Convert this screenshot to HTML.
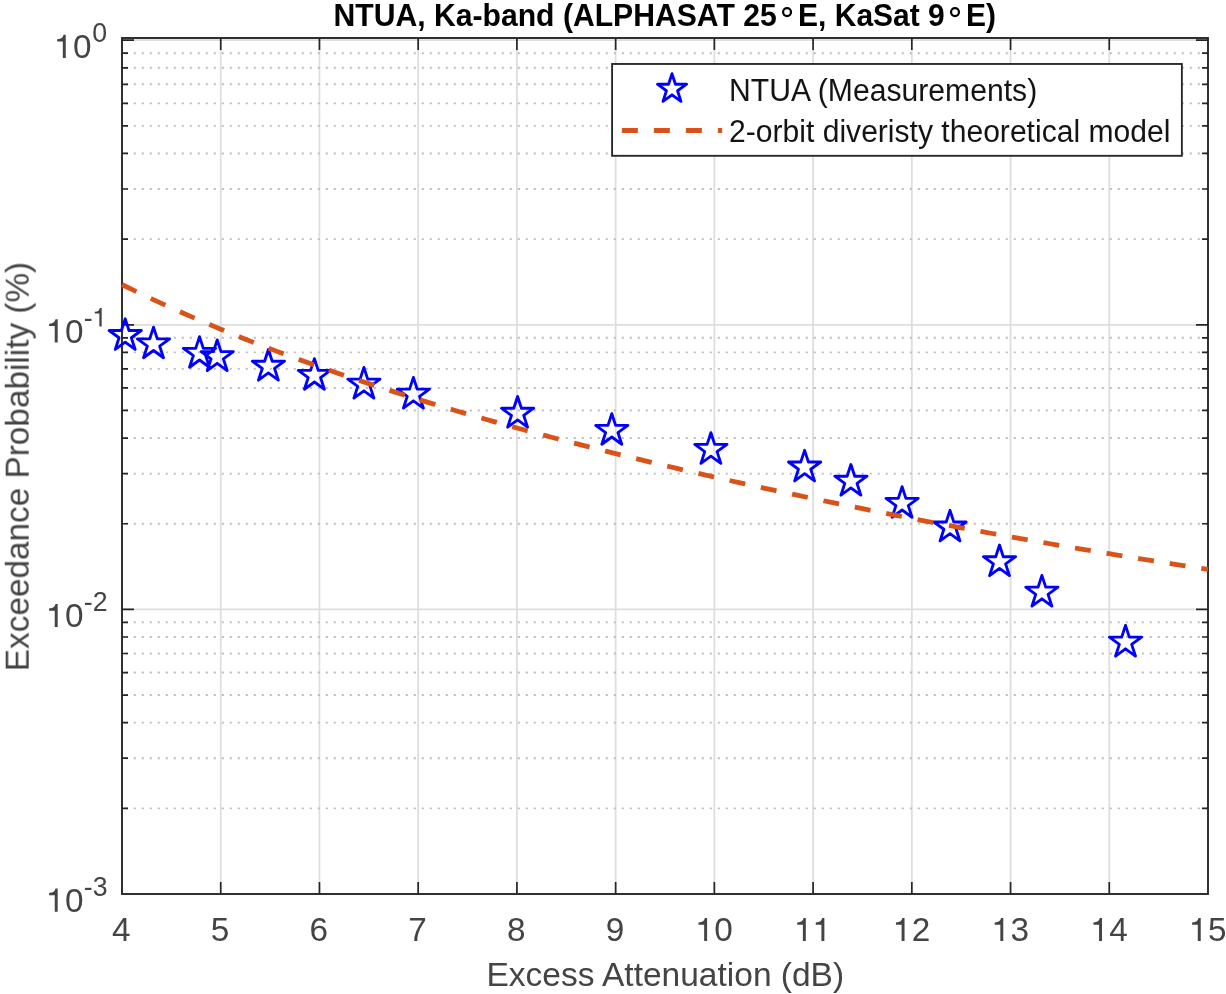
<!DOCTYPE html>
<html><head><meta charset="utf-8"><title>NTUA Ka-band</title>
<style>
html,body{margin:0;padding:0;background:#ffffff;}
body{width:1226px;height:994px;overflow:hidden;position:relative;font-family:"Liberation Sans",sans-serif;}
</style></head>
<body>
<svg width="1226" height="994" viewBox="0 0 1226 994" style="display:block;position:absolute;left:0;top:0;will-change:transform">

<path d="M220.73 38.0 V894.0 M319.45 38.0 V894.0 M418.18 38.0 V894.0 M516.91 38.0 V894.0 M615.64 38.0 V894.0 M714.36 38.0 V894.0 M813.09 38.0 V894.0 M911.82 38.0 V894.0 M1010.55 38.0 V894.0 M1109.27 38.0 V894.0" stroke="#dedede" stroke-width="1.8" fill="none"/>
<path d="M122.0 40.20 H1208.0 M122.0 324.80 H1208.0 M122.0 609.40 H1208.0" stroke="#dedede" stroke-width="1.8" fill="none"/>
<path d="M125.8 239.13 H1208.0 M125.8 189.01 H1208.0 M125.8 153.45 H1208.0 M125.8 125.87 H1208.0 M125.8 103.34 H1208.0 M125.8 84.29 H1208.0 M125.8 67.78 H1208.0 M125.8 53.22 H1208.0 M125.8 523.73 H1208.0 M125.8 473.61 H1208.0 M125.8 438.05 H1208.0 M125.8 410.47 H1208.0 M125.8 387.94 H1208.0 M125.8 368.89 H1208.0 M125.8 352.38 H1208.0 M125.8 337.82 H1208.0 M125.8 808.33 H1208.0 M125.8 758.21 H1208.0 M125.8 722.65 H1208.0 M125.8 695.07 H1208.0 M125.8 672.54 H1208.0 M125.8 653.49 H1208.0 M125.8 636.98 H1208.0 M125.8 622.42 H1208.0" stroke="#bcbcbc" stroke-width="1.9" stroke-dasharray="2 6" fill="none"/>
<path d="M220.73 894.0 v-12 M220.73 38.0 v12 M319.45 894.0 v-12 M319.45 38.0 v12 M418.18 894.0 v-12 M418.18 38.0 v12 M516.91 894.0 v-12 M516.91 38.0 v12 M615.64 894.0 v-12 M615.64 38.0 v12 M714.36 894.0 v-12 M714.36 38.0 v12 M813.09 894.0 v-12 M813.09 38.0 v12 M911.82 894.0 v-12 M911.82 38.0 v12 M1010.55 894.0 v-12 M1010.55 38.0 v12 M1109.27 894.0 v-12 M1109.27 38.0 v12 M122.0 40.20 h12 M1208.0 40.20 h-12 M122.0 324.80 h12 M1208.0 324.80 h-12 M122.0 609.40 h12 M1208.0 609.40 h-12 M122.0 239.13 h6 M1208.0 239.13 h-6 M122.0 189.01 h6 M1208.0 189.01 h-6 M122.0 153.45 h6 M1208.0 153.45 h-6 M122.0 125.87 h6 M1208.0 125.87 h-6 M122.0 103.34 h6 M1208.0 103.34 h-6 M122.0 84.29 h6 M1208.0 84.29 h-6 M122.0 67.78 h6 M1208.0 67.78 h-6 M122.0 53.22 h6 M1208.0 53.22 h-6 M122.0 523.73 h6 M1208.0 523.73 h-6 M122.0 473.61 h6 M1208.0 473.61 h-6 M122.0 438.05 h6 M1208.0 438.05 h-6 M122.0 410.47 h6 M1208.0 410.47 h-6 M122.0 387.94 h6 M1208.0 387.94 h-6 M122.0 368.89 h6 M1208.0 368.89 h-6 M122.0 352.38 h6 M1208.0 352.38 h-6 M122.0 337.82 h6 M1208.0 337.82 h-6 M122.0 808.33 h6 M1208.0 808.33 h-6 M122.0 758.21 h6 M1208.0 758.21 h-6 M122.0 722.65 h6 M1208.0 722.65 h-6 M122.0 695.07 h6 M1208.0 695.07 h-6 M122.0 672.54 h6 M1208.0 672.54 h-6 M122.0 653.49 h6 M1208.0 653.49 h-6 M122.0 636.98 h6 M1208.0 636.98 h-6 M122.0 622.42 h6 M1208.0 622.42 h-6" stroke="#262626" stroke-width="1.7" fill="none"/>
<rect x="122.0" y="38.0" width="1086.0" height="856.0" fill="none" stroke="#262626" stroke-width="1.9"/>
<path d="M125.20 318.82 L129.00 330.52 L141.30 330.52 L131.35 337.75 L135.15 349.45 L125.20 342.22 L115.25 349.45 L119.05 337.75 L109.10 330.52 L121.40 330.52 Z M153.50 327.12 L157.30 338.82 L169.60 338.82 L159.65 346.05 L163.45 357.75 L153.50 350.52 L143.55 357.75 L147.35 346.05 L137.40 338.82 L149.70 338.82 Z M199.50 336.62 L203.30 348.32 L215.60 348.32 L205.65 355.55 L209.45 367.25 L199.50 360.02 L189.55 367.25 L193.35 355.55 L183.40 348.32 L195.70 348.32 Z M217.20 339.92 L221.00 351.62 L233.30 351.62 L223.35 358.85 L227.15 370.55 L217.20 363.32 L207.25 370.55 L211.05 358.85 L201.10 351.62 L213.40 351.62 Z M268.40 349.52 L272.20 361.22 L284.50 361.22 L274.55 368.45 L278.35 380.15 L268.40 372.92 L258.45 380.15 L262.25 368.45 L252.30 361.22 L264.60 361.22 Z M314.40 358.62 L318.20 370.32 L330.50 370.32 L320.55 377.55 L324.35 389.25 L314.40 382.02 L304.45 389.25 L308.25 377.55 L298.30 370.32 L310.60 370.32 Z M363.90 367.42 L367.70 379.12 L380.00 379.12 L370.05 386.35 L373.85 398.05 L363.90 390.82 L353.95 398.05 L357.75 386.35 L347.80 379.12 L360.10 379.12 Z M413.40 377.42 L417.20 389.12 L429.50 389.12 L419.55 396.35 L423.35 408.05 L413.40 400.82 L403.45 408.05 L407.25 396.35 L397.30 389.12 L409.60 389.12 Z M517.60 396.52 L521.40 408.22 L533.70 408.22 L523.75 415.45 L527.55 427.15 L517.60 419.92 L507.65 427.15 L511.45 415.45 L501.50 408.22 L513.80 408.22 Z M611.80 413.62 L615.60 425.32 L627.90 425.32 L617.95 432.55 L621.75 444.25 L611.80 437.02 L601.85 444.25 L605.65 432.55 L595.70 425.32 L608.00 425.32 Z M710.90 432.72 L714.70 444.42 L727.00 444.42 L717.05 451.65 L720.85 463.35 L710.90 456.12 L700.95 463.35 L704.75 451.65 L694.80 444.42 L707.10 444.42 Z M804.60 450.32 L808.40 462.02 L820.70 462.02 L810.75 469.25 L814.55 480.95 L804.60 473.72 L794.65 480.95 L798.45 469.25 L788.50 462.02 L800.80 462.02 Z M850.90 464.52 L854.70 476.22 L867.00 476.22 L857.05 483.45 L860.85 495.15 L850.90 487.92 L840.95 495.15 L844.75 483.45 L834.80 476.22 L847.10 476.22 Z M902.10 486.62 L905.90 498.32 L918.20 498.32 L908.25 505.55 L912.05 517.25 L902.10 510.02 L892.15 517.25 L895.95 505.55 L886.00 498.32 L898.30 498.32 Z M950.00 510.32 L953.80 522.02 L966.10 522.02 L956.15 529.25 L959.95 540.95 L950.00 533.72 L940.05 540.95 L943.85 529.25 L933.90 522.02 L946.20 522.02 Z M999.50 545.02 L1003.30 556.72 L1015.60 556.72 L1005.65 563.95 L1009.45 575.65 L999.50 568.42 L989.55 575.65 L993.35 563.95 L983.40 556.72 L995.70 556.72 Z M1041.90 575.42 L1045.70 587.12 L1058.00 587.12 L1048.05 594.35 L1051.85 606.05 L1041.90 598.82 L1031.95 606.05 L1035.75 594.35 L1025.80 587.12 L1038.10 587.12 Z M1125.50 625.42 L1129.30 637.12 L1141.60 637.12 L1131.65 644.35 L1135.45 656.05 L1125.50 648.82 L1115.55 656.05 L1119.35 644.35 L1109.40 637.12 L1121.70 637.12 Z" fill="none" stroke="#0000FF" stroke-width="2.85" stroke-linejoin="round"/>
<path d="M122.00 284.59 L126.94 287.01 L131.87 289.42 L136.81 291.80 L141.75 294.16 L146.68 296.50 L151.62 298.82 L156.55 301.11 L161.49 303.39 L166.43 305.64 L171.36 307.88 L176.30 310.09 L181.24 312.29 L186.17 314.46 L191.11 316.62 L196.05 318.76 L200.98 320.88 L205.92 322.98 L210.85 325.06 L215.79 327.13 L220.73 329.18 L225.66 331.21 L230.60 333.22 L235.54 335.22 L240.47 337.20 L245.41 339.16 L250.35 341.11 L255.28 343.04 L260.22 344.96 L265.15 346.86 L270.09 348.75 L275.03 350.62 L279.96 352.48 L284.90 354.32 L289.84 356.15 L294.77 357.97 L299.71 359.77 L304.65 361.55 L309.58 363.33 L314.52 365.09 L319.45 366.84 L324.39 368.57 L329.33 370.29 L334.26 372.00 L339.20 373.70 L344.14 375.38 L349.07 377.06 L354.01 378.72 L358.95 380.37 L363.88 382.01 L368.82 383.63 L373.75 385.25 L378.69 386.86 L383.63 388.45 L388.56 390.03 L393.50 391.61 L398.44 393.17 L403.37 394.72 L408.31 396.27 L413.25 397.80 L418.18 399.32 L423.12 400.84 L428.05 402.34 L432.99 403.84 L437.93 405.32 L442.86 406.80 L447.80 408.27 L452.74 409.73 L457.67 411.18 L462.61 412.62 L467.55 414.05 L472.48 415.48 L477.42 416.89 L482.35 418.30 L487.29 419.70 L492.23 421.10 L497.16 422.48 L502.10 423.86 L507.04 425.23 L511.97 426.59 L516.91 427.95 L521.85 429.30 L526.78 430.64 L531.72 431.97 L536.65 433.30 L541.59 434.62 L546.53 435.93 L551.46 437.24 L556.40 438.54 L561.34 439.83 L566.27 441.12 L571.21 442.40 L576.15 443.67 L581.08 444.94 L586.02 446.20 L590.95 447.46 L595.89 448.71 L600.83 449.95 L605.76 451.19 L610.70 452.42 L615.64 453.65 L620.57 454.87 L625.51 456.09 L630.45 457.30 L635.38 458.50 L640.32 459.70 L645.25 460.89 L650.19 462.08 L655.13 463.26 L660.06 464.44 L665.00 465.61 L669.94 466.78 L674.87 467.94 L679.81 469.10 L684.75 470.25 L689.68 471.40 L694.62 472.54 L699.55 473.68 L704.49 474.81 L709.43 475.94 L714.36 477.06 L719.30 478.18 L724.24 479.29 L729.17 480.40 L734.11 481.51 L739.05 482.61 L743.98 483.70 L748.92 484.80 L753.85 485.88 L758.79 486.96 L763.73 488.04 L768.66 489.12 L773.60 490.18 L778.54 491.25 L783.47 492.31 L788.41 493.37 L793.35 494.42 L798.28 495.47 L803.22 496.51 L808.15 497.55 L813.09 498.58 L818.03 499.62 L822.96 500.64 L827.90 501.67 L832.84 502.68 L837.77 503.70 L842.71 504.71 L847.65 505.72 L852.58 506.72 L857.52 507.72 L862.45 508.71 L867.39 509.71 L872.33 510.69 L877.26 511.68 L882.20 512.66 L887.14 513.63 L892.07 514.60 L897.01 515.57 L901.95 516.53 L906.88 517.49 L911.82 518.45 L916.75 519.40 L921.69 520.35 L926.63 521.30 L931.56 522.24 L936.50 523.18 L941.44 524.11 L946.37 525.04 L951.31 525.97 L956.25 526.89 L961.18 527.81 L966.12 528.72 L971.05 529.63 L975.99 530.54 L980.93 531.45 L985.86 532.35 L990.80 533.25 L995.74 534.14 L1000.67 535.03 L1005.61 535.92 L1010.55 536.80 L1015.48 537.68 L1020.42 538.55 L1025.35 539.43 L1030.29 540.29 L1035.23 541.16 L1040.16 542.02 L1045.10 542.88 L1050.04 543.74 L1054.97 544.59 L1059.91 545.44 L1064.85 546.28 L1069.78 547.12 L1074.72 547.96 L1079.65 548.80 L1084.59 549.63 L1089.53 550.46 L1094.46 551.28 L1099.40 552.10 L1104.34 552.92 L1109.27 553.74 L1114.21 554.55 L1119.15 555.36 L1124.08 556.16 L1129.02 556.97 L1133.95 557.77 L1138.89 558.56 L1143.83 559.36 L1148.76 560.15 L1153.70 560.93 L1158.64 561.72 L1163.57 562.50 L1168.51 563.28 L1173.45 564.06 L1178.38 564.83 L1183.32 565.60 L1188.25 566.37 L1193.19 567.13 L1198.13 567.90 L1203.06 568.66 L1208.00 569.41" fill="none" stroke="#D95319" stroke-width="4.8" stroke-dasharray="15.997 15.997"/>
<rect x="612.1" y="63.97" width="569.77" height="91.83" fill="#ffffff" stroke="#262626" stroke-width="1.85"/>
<path d="M672.00 73.65 L675.44 84.22 L686.55 84.22 L677.56 90.76 L680.99 101.33 L672.00 94.79 L663.01 101.33 L666.44 90.76 L657.45 84.22 L668.56 84.22 Z" fill="none" stroke="#0000FF" stroke-width="2.85" stroke-linejoin="round"/>
<path d="M621.9 130.5 H722.1" fill="none" stroke="#D95319" stroke-width="4.9" stroke-dasharray="16 16"/>
<text transform="translate(729.10 100.90) scale(1.005 1.02)" font-family="'Liberation Sans', sans-serif" font-size="30" font-weight="normal" fill="#141414" text-anchor="start">NTUA (Measurements)</text>
<text transform="translate(729.10 142.40) scale(1.003 1.02)" font-family="'Liberation Sans', sans-serif" font-size="30" font-weight="normal" fill="#141414" text-anchor="start">2-orbit diveristy theoretical model</text>
<text transform="translate(112.03 941.10) scale(1.0 1.02)" font-family="'Liberation Sans', sans-serif" font-size="33.33" font-weight="normal" fill="#444446" text-anchor="start">4</text>
<text transform="translate(210.76 941.10) scale(1.0 1.02)" font-family="'Liberation Sans', sans-serif" font-size="33.33" font-weight="normal" fill="#444446" text-anchor="start">5</text>
<text transform="translate(309.49 941.10) scale(1.0 1.02)" font-family="'Liberation Sans', sans-serif" font-size="33.33" font-weight="normal" fill="#444446" text-anchor="start">6</text>
<text transform="translate(408.21 941.10) scale(1.0 1.02)" font-family="'Liberation Sans', sans-serif" font-size="33.33" font-weight="normal" fill="#444446" text-anchor="start">7</text>
<text transform="translate(506.94 941.10) scale(1.0 1.02)" font-family="'Liberation Sans', sans-serif" font-size="33.33" font-weight="normal" fill="#444446" text-anchor="start">8</text>
<text transform="translate(605.67 941.10) scale(1.0 1.02)" font-family="'Liberation Sans', sans-serif" font-size="33.33" font-weight="normal" fill="#444446" text-anchor="start">9</text>
<path transform="translate(695.83 941.10) scale(33.33 -33.33)" d="M 0.338 0 L 0.25 0 L 0.25 0.492 L 0.08 0.492 L 0.08 0.558 Q 0.18 0.562 0.225 0.605 Q 0.258 0.640 0.272 0.695 L 0.338 0.695 Z" fill="#444446"/><text transform="translate(714.36 941.10) scale(1.0 1.02)" font-family="'Liberation Sans', sans-serif" font-size="33.33" font-weight="normal" fill="#444446" text-anchor="start">0</text>
<path transform="translate(794.55 941.10) scale(33.33 -33.33)" d="M 0.338 0 L 0.25 0 L 0.25 0.492 L 0.08 0.492 L 0.08 0.558 Q 0.18 0.562 0.225 0.605 Q 0.258 0.640 0.272 0.695 L 0.338 0.695 Z" fill="#444446"/><path transform="translate(813.09 941.10) scale(33.33 -33.33)" d="M 0.338 0 L 0.25 0 L 0.25 0.492 L 0.08 0.492 L 0.08 0.558 Q 0.18 0.562 0.225 0.605 Q 0.258 0.640 0.272 0.695 L 0.338 0.695 Z" fill="#444446"/>
<path transform="translate(893.28 941.10) scale(33.33 -33.33)" d="M 0.338 0 L 0.25 0 L 0.25 0.492 L 0.08 0.492 L 0.08 0.558 Q 0.18 0.562 0.225 0.605 Q 0.258 0.640 0.272 0.695 L 0.338 0.695 Z" fill="#444446"/><text transform="translate(911.82 941.10) scale(1.0 1.02)" font-family="'Liberation Sans', sans-serif" font-size="33.33" font-weight="normal" fill="#444446" text-anchor="start">2</text>
<path transform="translate(992.01 941.10) scale(33.33 -33.33)" d="M 0.338 0 L 0.25 0 L 0.25 0.492 L 0.08 0.492 L 0.08 0.558 Q 0.18 0.562 0.225 0.605 Q 0.258 0.640 0.272 0.695 L 0.338 0.695 Z" fill="#444446"/><text transform="translate(1010.55 941.10) scale(1.0 1.02)" font-family="'Liberation Sans', sans-serif" font-size="33.33" font-weight="normal" fill="#444446" text-anchor="start">3</text>
<path transform="translate(1090.73 941.10) scale(33.33 -33.33)" d="M 0.338 0 L 0.25 0 L 0.25 0.492 L 0.08 0.492 L 0.08 0.558 Q 0.18 0.562 0.225 0.605 Q 0.258 0.640 0.272 0.695 L 0.338 0.695 Z" fill="#444446"/><text transform="translate(1109.27 941.10) scale(1.0 1.02)" font-family="'Liberation Sans', sans-serif" font-size="33.33" font-weight="normal" fill="#444446" text-anchor="start">4</text>
<path transform="translate(1189.46 941.10) scale(33.33 -33.33)" d="M 0.338 0 L 0.25 0 L 0.25 0.492 L 0.08 0.492 L 0.08 0.558 Q 0.18 0.562 0.225 0.605 Q 0.258 0.640 0.272 0.695 L 0.338 0.695 Z" fill="#444446"/><text transform="translate(1208.00 941.10) scale(1.0 1.02)" font-family="'Liberation Sans', sans-serif" font-size="33.33" font-weight="normal" fill="#444446" text-anchor="start">5</text>
<text transform="translate(665.30 986.20) scale(1.006 1.01)" font-family="'Liberation Sans', sans-serif" font-size="33.33" font-weight="normal" fill="#444446" text-anchor="middle">Excess Attenuation (dB)</text>
<text transform="translate(29.00 466.50) rotate(-90) scale(1.0 1.01)" font-family="'Liberation Sans', sans-serif" font-size="33.33" font-weight="normal" fill="#444446" text-anchor="middle">Exceedance Probability (%)</text>
<text transform="translate(92.17 42.00) scale(1.0 1.02)" font-family="'Liberation Sans', sans-serif" font-size="26.67" font-weight="normal" fill="#444446" text-anchor="start">0</text>
<path transform="translate(54.49 57.90) scale(33.33 -33.33)" d="M 0.338 0 L 0.25 0 L 0.25 0.492 L 0.08 0.492 L 0.08 0.558 Q 0.18 0.562 0.225 0.605 Q 0.258 0.640 0.272 0.695 L 0.338 0.695 Z" fill="#444446"/><text transform="translate(73.03 57.90) scale(1.0 1.02)" font-family="'Liberation Sans', sans-serif" font-size="33.33" font-weight="normal" fill="#444446" text-anchor="start">0</text>
<text transform="translate(83.79 326.60) scale(1.0 1.02)" font-family="'Liberation Sans', sans-serif" font-size="26.67" font-weight="normal" fill="#444446" text-anchor="start">-</text><path transform="translate(92.67 326.60) scale(26.67 -26.67)" d="M 0.338 0 L 0.25 0 L 0.25 0.492 L 0.08 0.492 L 0.08 0.558 Q 0.18 0.562 0.225 0.605 Q 0.258 0.640 0.272 0.695 L 0.338 0.695 Z" fill="#444446"/>
<path transform="translate(46.41 342.50) scale(33.33 -33.33)" d="M 0.338 0 L 0.25 0 L 0.25 0.492 L 0.08 0.492 L 0.08 0.558 Q 0.18 0.562 0.225 0.605 Q 0.258 0.640 0.272 0.695 L 0.338 0.695 Z" fill="#444446"/><text transform="translate(64.95 342.50) scale(1.0 1.02)" font-family="'Liberation Sans', sans-serif" font-size="33.33" font-weight="normal" fill="#444446" text-anchor="start">0</text>
<text transform="translate(83.79 611.20) scale(1.0 1.02)" font-family="'Liberation Sans', sans-serif" font-size="26.67" font-weight="normal" fill="#444446" text-anchor="start">-</text><text transform="translate(92.67 611.20) scale(1.0 1.02)" font-family="'Liberation Sans', sans-serif" font-size="26.67" font-weight="normal" fill="#444446" text-anchor="start">2</text>
<path transform="translate(46.41 627.10) scale(33.33 -33.33)" d="M 0.338 0 L 0.25 0 L 0.25 0.492 L 0.08 0.492 L 0.08 0.558 Q 0.18 0.562 0.225 0.605 Q 0.258 0.640 0.272 0.695 L 0.338 0.695 Z" fill="#444446"/><text transform="translate(64.95 627.10) scale(1.0 1.02)" font-family="'Liberation Sans', sans-serif" font-size="33.33" font-weight="normal" fill="#444446" text-anchor="start">0</text>
<text transform="translate(83.79 895.80) scale(1.0 1.02)" font-family="'Liberation Sans', sans-serif" font-size="26.67" font-weight="normal" fill="#444446" text-anchor="start">-</text><text transform="translate(92.67 895.80) scale(1.0 1.02)" font-family="'Liberation Sans', sans-serif" font-size="26.67" font-weight="normal" fill="#444446" text-anchor="start">3</text>
<path transform="translate(46.41 911.70) scale(33.33 -33.33)" d="M 0.338 0 L 0.25 0 L 0.25 0.492 L 0.08 0.492 L 0.08 0.558 Q 0.18 0.562 0.225 0.605 Q 0.258 0.640 0.272 0.695 L 0.338 0.695 Z" fill="#444446"/><text transform="translate(64.95 911.70) scale(1.0 1.02)" font-family="'Liberation Sans', sans-serif" font-size="33.33" font-weight="normal" fill="#444446" text-anchor="start">0</text>
<text transform="translate(333.50 25.60) scale(1.005 1.035)" font-family="'Liberation Sans', sans-serif" font-size="30" font-weight="bold" fill="#000" text-anchor="start">NTUA, Ka-band (ALPHASAT 25</text>
<text transform="translate(798.10 25.60) scale(1.0 1.035)" font-family="'Liberation Sans', sans-serif" font-size="30" font-weight="bold" fill="#000" text-anchor="start">E, KaSat 9</text>
<text transform="translate(966.10 25.60) scale(1.0 1.035)" font-family="'Liberation Sans', sans-serif" font-size="30" font-weight="bold" fill="#000" text-anchor="start">E)</text>
<circle cx="787.05" cy="12.1" r="3.95" fill="none" stroke="#000" stroke-width="2.2"/>
<circle cx="955.0" cy="12.1" r="3.95" fill="none" stroke="#000" stroke-width="2.2"/>
</svg>
</body></html>
